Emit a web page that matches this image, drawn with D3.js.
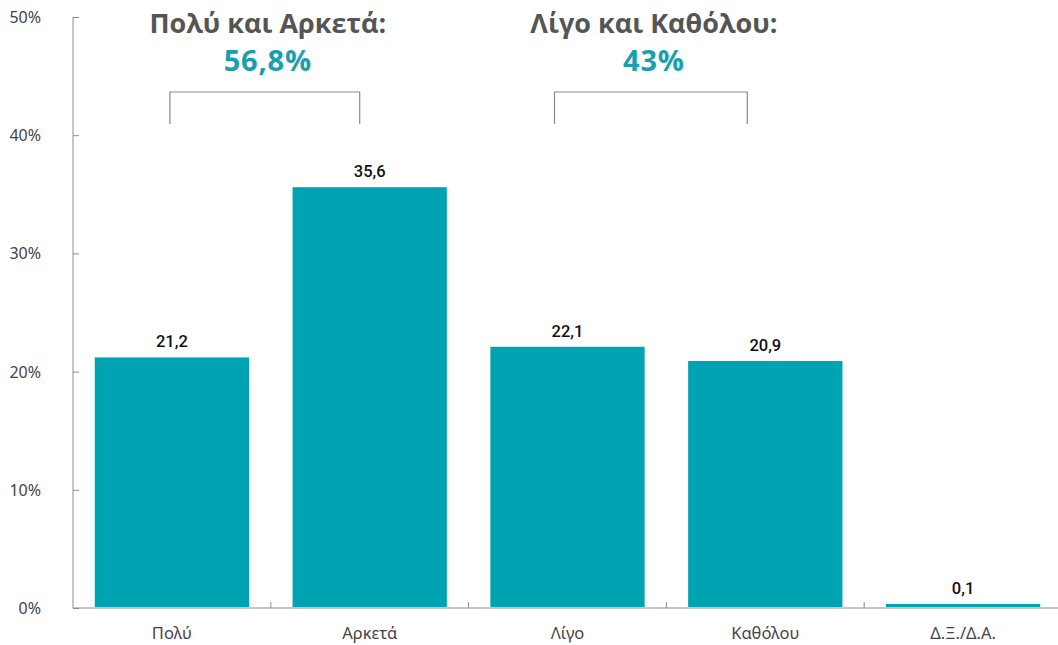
<!DOCTYPE html>
<html>
<head>
<meta charset="utf-8">
<script src="https://cdn.jsdelivr.net/npm/d3@7"></script>
<style>
  html, body { margin: 0; padding: 0; background: #fff; }
  svg { display: block; }
</style>
</head>
<body>
<svg id="chart" width="1058" height="645"></svg>
<script>
// Survey answers and their shares (%)
const categories = ["Πολύ", "Αρκετά", "Λίγο", "Καθόλου", "Δ.Ξ./Δ.Α."];
const values = [21.2, 35.6, 22.1, 20.9, 0.1];
const yTicks = [0, 10, 20, 30, 40, 50];

// Grouped totals shown above the bars
const groupLabels = ["Πολύ και Αρκετά:", "Λίγο και Καθόλου:"];
const groupTotals = ["56,8%", "43%"];
const groupMembers = [["Πολύ", "Αρκετά"], ["Λίγο", "Καθόλου"]];

const fmt = v => String(v).replace(".", ",");
const barColor = "#00a3b1";
const axisColor = "#8c8c8c";

const svg = d3.select("#chart");
const plotLeft = 73, plotRight = 1062, plotTop = 17, plotBottom = 608;

const x = d3.scaleBand().domain(categories).range([plotLeft, plotRight])
  .paddingInner(0.22).paddingOuter(0.11);
const y = d3.scaleLinear().domain([0, 50]).range([plotBottom, plotTop]);

// Bars (tiny shares keep a thin visible sliver)
const minBar = 3;
svg.append("g").selectAll("rect").data(values).join("rect")
  .attr("x", (d, i) => x(categories[i]))
  .attr("width", x.bandwidth())
  .attr("y", d => Math.min(y(d), y(0) - 1 - minBar))
  .attr("height", d => Math.max(y(0) - 1 - y(d), minBar))
  .attr("fill", barColor);

// Value labels
svg.append("g").selectAll("text").data(values).join("text")
  .attr("x", (d, i) => x(categories[i]) + x.bandwidth() / 2)
  .attr("y", d => Math.min(y(d), y(0) - 1 - minBar) - 10)
  .attr("text-anchor", "middle")
  .attr("font-family", "Roboto, 'Liberation Sans', sans-serif")
  .attr("font-weight", 500)
  .attr("font-size", 16.5)
  .attr("fill", "#111")
  .text(d => fmt(d));

// Y axis
const yAxis = d3.axisLeft(y).tickValues(yTicks).tickSize(-6).tickPadding(32)
  .tickFormat(d => d + "%");
const gy = svg.append("g").attr("transform", `translate(${plotLeft},0)`).call(yAxis);
gy.select(".domain").attr("stroke", axisColor).attr("d", `M0,${plotTop}V${plotBottom}`);
gy.selectAll(".tick line").attr("stroke", axisColor);
gy.selectAll(".tick text")
  .attr("font-family", "'Noto Sans', 'Open Sans', sans-serif")
  .attr("font-size", 16)
  .attr("fill", "#444")
  .attr("dy", "0.34em");

// X axis
const xAxis = d3.axisBottom(x).tickSize(0).tickPadding(19);
const gx = svg.append("g").attr("transform", `translate(0,${plotBottom})`).call(xAxis);
gx.select(".domain").attr("stroke", axisColor).attr("d", `M${plotLeft},0H${plotRight}`);
gx.selectAll(".tick text")
  .attr("font-family", "'Noto Sans', 'Open Sans', sans-serif")
  .attr("font-size", 16.5)
  .attr("fill", "#444");

// Category separators on the x axis
const step = x.step();
const sepX = categories.slice(1).map(c => x(c) - step * x.paddingInner() / 2);
svg.append("g").selectAll("line").data(sepX).join("line")
  .attr("x1", d => d).attr("x2", d => d)
  .attr("y1", plotBottom - 6).attr("y2", plotBottom)
  .attr("stroke", axisColor);

// Brackets with group totals
const bracketTop = 92, bracketBottom = 124;
const leftShift = [2, 13], rightShift = [10, 18];
const groups = svg.append("g");
groupMembers.forEach((members, i) => {
  const x1 = x(members[0]) + x.bandwidth() / 2 - leftShift[i];
  const x2 = x(members[1]) + x.bandwidth() / 2 - rightShift[i];
  groups.append("path")
    .attr("d", `M${x1},${bracketBottom}V${bracketTop}H${x2}V${bracketBottom}`)
    .attr("fill", "none")
    .attr("stroke", "#8a8a8a")
    .attr("stroke-width", 1.2);
  const cx = (x1 + x2) / 2 + 3;
  groups.append("text")
    .attr("x", cx).attr("y", 33)
    .attr("text-anchor", "middle")
    .attr("font-family", "'Open Sans', 'Noto Sans', sans-serif")
    .attr("font-weight", 700)
    .attr("font-size", 27)
    .attr("fill", "#555")
    .text(groupLabels[i]);
  groups.append("text")
    .attr("x", cx).attr("y", 71)
    .attr("text-anchor", "middle")
    .attr("font-family", "'Open Sans', 'Noto Sans', sans-serif")
    .attr("font-weight", 700)
    .attr("font-size", 29)
    .attr("letter-spacing", 0.8)
    .attr("fill", "#1a9fae")
    .text(groupTotals[i]);
});
</script>
</body>
</html>
